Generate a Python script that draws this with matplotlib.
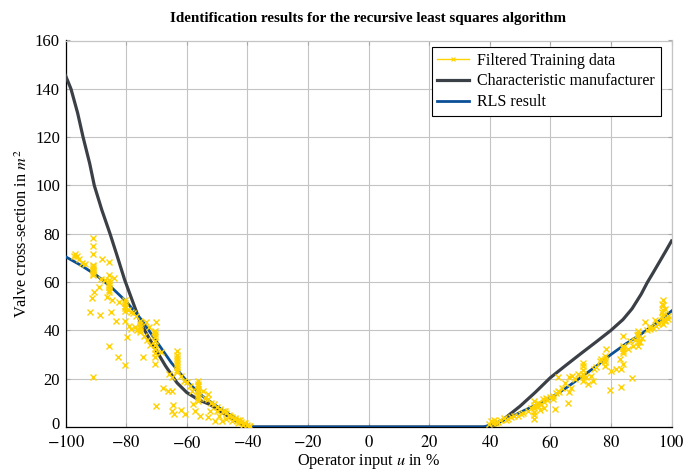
import numpy as np
import matplotlib
matplotlib.use("Agg")
import matplotlib.pyplot as plt
import matplotlib.transforms as mtransforms
from matplotlib.lines import Line2D

plt.rcParams['font.family'] = ['Liberation Serif', 'DejaVu Serif']
plt.rcParams['mathtext.fontset'] = 'stix'

# characteristic of the manufacturer
man_u = [-100, -98.2, -96, -94.2, -92, -90.5, -88, -85.3, -83, -80.5, -78, -75.5, -73,
         -70, -67, -63.2, -60, -56, -52.3, -48, -45, -42, -40,
         40, 42, 45, 50, 55, 60, 65, 70, 75, 80, 84, 87, 90, 92, 94, 96, 98, 100]
man_v = [145.5, 140, 130, 120, 109, 100, 89.8, 80, 71, 61, 52.5, 44, 38,
         31.6, 25.3, 18.3, 14.3, 11.2, 9.3, 5.8, 3.5, 1.2, 0,
         0, 0.9, 3.6, 8.6, 14.3, 20.4, 25.4, 30.3, 35.1, 40, 44.5, 49, 55, 59.8, 64, 68.3,
         72.6, 77]

# RLS result
rls_u = [-100, -95, -90, -85, -80, -75, -70, -65, -60, -55, -50, -45, -42, -40, -38,
         38, 40, 45, 50, 55, 60, 65, 70, 75, 80, 85, 90, 95, 100]
rls_v = [70.5, 67, 63, 58, 52, 44.5, 35.5, 26.5, 19, 13, 8.5, 4.5, 2, 0.5, 0,
         0, 0.8, 3, 6, 9, 12, 16, 20.5, 25, 30, 34.5, 38.5, 43, 48]

# filtered training data, left part
data_left_u = [-91, -91, -91, -97.3, -96.7, -96.1, -95.5, -94.5, -93.5,
               -91, -91, -91, -91, -91, -91, -91, -88.1, -85.7,
               -88.4, -86.8, -85.7, -84,
               -85.7, -85.7, -85.7, -85.7, -85.7, -85.7,
               -89, -90.6, -91.4, -86.2, -84.5, -92, -88.6, -85.1, -82.4,
               -80.4, -80.4, -80.4, -80.4, -80.4,
               -79.5, -78.5, -77.8, -76.8,
               -83.2, -80.4, -79, -78.5, -77, -76.5,
               -75.5, -75.5, -75.5, -75.5, -75.5,
               -73.5, -72.4, -70.2, -70.8, -79.6,
               -70.5, -70.5, -70.5, -70.5, -70.5, -70.5, -70.5, -70.5,
               -85.7, -82.7, -80.4, -74.3, -70.4, -91,
               -73, -72, -74, -68.5,
               -63.3, -63.3, -63.3, -63.3, -63.3, -63.3, -63.3, -63.3,
               -67.8, -66.1, -64.7, -70.2, -64.5, -65, -64.2, -62, -60.6, -57.8,
               -66, -65, -62, -61, -60, -59,
               -56.2, -56.2, -56.2, -56.2, -56.2, -56.2, -56.2, -56.2,
               -58.4, -54.5, -52.9,
               -57.3, -55.6, -52.9, -52.3,
               -50.1, -47.4, -45.7, -44, -42.4, -40.7, -50.7, -48.4,
               -54, -53, -52, -51, -50, -49, -48, -47, -46, -45, -44, -43, -42, -41,
               -40, -39.5, -49.5, -47, -45, -43, -41.5, -39]
data_left_v = [78.4, 74.9, 71.8, 70.7, 71.5, 70.7, 69.5, 68, 67.5,
               62.8, 63.5, 64.2, 65, 65.8, 66.5, 67.2, 69.7, 68.3,
               61.4, 61, 62.8, 61.8,
               55.8, 56.8, 57.8, 58.8, 59.8, 60.7,
               57.9, 55.8, 53.5, 53.7, 52.4, 47.5, 46.5, 47.5, 51.7,
               48.2, 49.2, 50.2, 51.3, 52.4,
               48.5, 47.5, 47, 46,
               43.8, 44, 42, 40.6, 41.5, 40,
               39.2, 40.3, 41.5, 42.7, 44,
               43.3, 41.3, 43.3, 39.2, 37.1,
               28.8, 30.5, 32.2, 34, 35.7, 37.1, 38.5, 39.9,
               33.7, 28.8, 25.6, 29.1, 26.1, 20.5,
               36, 34, 37.5, 31,
               22.6, 23.8, 25, 26.2, 27.4, 28.6, 29.8, 31.6,
               16.1, 15, 15, 8.7, 9.1, 6.6, 5.3, 6.9, 5.3, 9.4,
               22, 20.5, 21, 19, 18.5, 17,
               10.8, 12, 13.2, 14.4, 15.6, 16.8, 18, 19.1,
               15, 15, 13.6,
               6.6, 4.6, 4.2, 6.6,
               6.6, 6.6, 4.6, 3.9, 2.8, 1.8, 2.5, 2.5,
               12, 11.5, 10, 9.5, 8.2, 7.5, 6.8, 5.8, 5, 4.2, 3.5, 2.8, 2.2, 1.5,
               1, 0.5, 4.5, 3.5, 2.5, 1.5, 0.8, 0.3]

# filtered training data, right part
data_right_u = [39.7, 40.5, 41, 41.5, 42, 42.7, 43.5, 44.8, 45.5, 46, 47, 48, 49.2,
                50.3, 51, 52.6, 53.6,
                54.7, 54.7, 54.7, 54.7, 54.7, 54.7,
                55.8, 57.5, 58.6, 60.8, 61.4, 62.5, 62.7, 65.8, 66.3,
                56, 57, 58, 59, 60, 61, 62, 63, 64, 56.5, 58,
                64.7, 66.3, 68,
                70.8, 70.8, 70.8, 70.8, 70.8, 70.8,
                71.9, 73.5, 74.1, 72.4, 66.9, 67, 69, 75, 74.5,
                76.3, 76.8,
                77.9, 77.9, 77.9, 77.9,
                78.5, 80.1, 81.8, 83.4, 82.9, 84, 79.6, 83.2, 86.8, 84,
                84, 84, 84, 84,
                85.6, 86.2, 87.3, 88, 88.5, 89.5, 90.1,
                89, 89, 89, 89, 89,
                91.2, 92.8, 94.5, 95.6, 96.7, 97.8, 98.9,
                97.2, 97.2, 97.2, 97.2, 97.2, 97.2,
                96.7, 97.8, 96.7,
                92, 93, 94, 95, 96, 98, 99]
data_right_v = [1.2, 2.5, 1.8, 3, 1.5, 2.2, 2.8, 3.9, 3, 3.5, 4.2, 4.5, 4.6,
                5.3, 6, 6.6, 7.8,
                3.3, 4.8, 6.3, 7.8, 9.3, 10.8,
                10.1, 11.5, 12.2, 11.5, 7.4, 15, 20.5, 10.1, 14.3,
                8.5, 9.5, 10.5, 11, 12.5, 13, 14, 14.5, 16, 7, 8,
                18.4, 20.5, 19.8,
                19.1, 20.6, 22.1, 23.6, 25.1, 26.7,
                20.5, 21.2, 19.1, 17.7, 16.3, 21, 22, 25, 24,
                27.4, 28.1,
                25.4, 26.8, 28.2, 29.5,
                32.3, 23.3, 24, 24, 28.1, 26.1, 15.2, 16.6, 20.2, 37.8,
                30.6, 31.6, 32.6, 33.7,
                32.3, 35.7, 33.5, 36, 38, 35, 37,
                33.7, 35.2, 36.8, 38.3, 39.9,
                43.3, 41.3, 44.1, 42.7, 45.4, 44.1, 44.8,
                42.7, 44.5, 46.5, 48.5, 50.5, 52.4,
                51, 48.9, 47.5,
                40, 40.5, 41, 42, 43, 44, 46]

yellow = '#ffd200'
dark = '#3b3f46'
blue = '#0b4f96'
gridc = '#c4c4c4'

fig = plt.figure(figsize=(6.94, 4.72), dpi=100)
ax = fig.add_axes([65.5 / 694, 45 / 472, 606 / 694, 386.5 / 472])

ax.plot(man_u, man_v, color=dark, lw=2.3, zorder=3, solid_joinstyle='round')
ax.plot(rls_u, rls_v, color=blue, lw=2.0, zorder=4, solid_joinstyle='round')
ax.plot(data_left_u + data_right_u, data_left_v + data_right_v, ls='none',
        marker='x', ms=4.5, mew=1.0, color=yellow, zorder=5)

ax.set_xlim(-100, 100)
ax.set_ylim(0, 160)
ax.set_xticks(np.arange(-100, 101, 20))
ax.set_yticks(np.arange(0, 161, 20))
ax.set_xticklabels(['$-100$', '$-80$', '$-60$', '$-40$', '$-20$', '$0$', '$20$', '$40$',
                    '$60$', '$80$', '$100$'])
ax.set_yticklabels([str(t) for t in range(0, 161, 20)])
ax.grid(True, color=gridc, lw=0.8)
ax.set_axisbelow(True)
ax.tick_params(direction='in', length=3, color='#a8a8a8', labelsize=12,
               top=True, right=True)
ax.tick_params(axis='x', pad=6)
ax.tick_params(axis='y', pad=4)
ax.spines['left'].set_color('black')
ax.spines['bottom'].set_color('black')
ax.spines['top'].set_color(gridc)
ax.spines['right'].set_color(gridc)
for s in ax.spines.values():
    s.set_linewidth(0.9)

# lift the "0" on the y axis a little so it clears "-100"
lbl0 = ax.get_yticklabels()[0]
lbl0.set_transform(lbl0.get_transform() +
                   mtransforms.ScaledTranslation(0, 3 / 72, fig.dpi_scale_trans))

ax.set_xlabel('Operator input $u$ in %', fontsize=11.7, labelpad=0)
ax.set_ylabel('Valve cross-section in $m^2$', fontsize=11.7, labelpad=3)
ax.set_title('Identification results for the recursive least squares algorithm',
             fontsize=10.9, fontweight='bold', pad=13)

handles = [Line2D([], [], color=yellow, lw=1.0, marker='x', ms=3, mew=0.8),
           Line2D([], [], color=dark, lw=2.3),
           Line2D([], [], color=blue, lw=2.0)]
labels = ['Filtered Training data', 'Characteristic manufacturer', 'RLS result']
leg = ax.legend(handles, labels, loc='upper right', bbox_to_anchor=(0.982, 0.983),
                fontsize=11.5, frameon=True, fancybox=False, framealpha=1,
                edgecolor='black', handlelength=2.0, handletextpad=0.5,
                borderpad=0.35, labelspacing=0.3, borderaxespad=0)
leg.get_frame().set_linewidth(0.8)

fig.savefig('out.png', dpi=100)
